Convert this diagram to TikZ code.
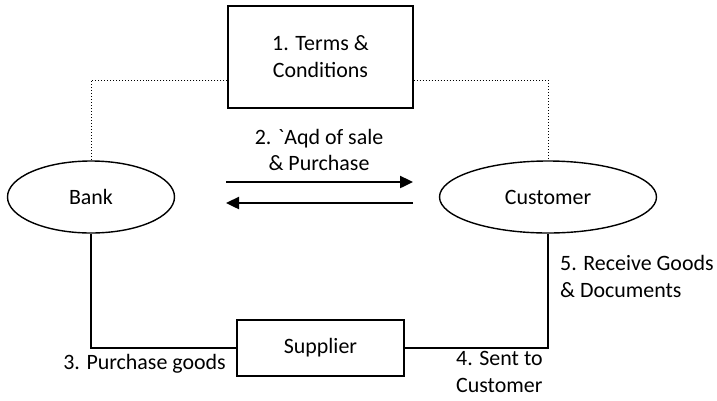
\documentclass[tikz,border=0pt]{standalone}
\usepackage{fontspec}
\setmainfont{Carlito}
\usetikzlibrary{shapes.geometric,arrows.meta}
\begin{document}
\begin{tikzpicture}[x=1bp,y=-1bp,
  every node/.style={font=\fontsize{22}{27}\selectfont, inner sep=0pt},
  party/.style={draw, ellipse, line width=1.4bp, inner sep=0pt},
  panel/.style={draw, line width=1.4bp, align=center},
  link/.style={line width=1.2bp},
  tie/.style={line width=1bp, dotted},
  flow/.style={line width=2.4bp, -{Triangle[length=13bp,width=12bp]}},
  lbl/.style={align=left}]
  \useasboundingbox (0,0) rectangle (717,400);

  % parties
  \node[party, minimum width=167bp, minimum height=72bp] (bank) at (91,197) {Bank};
  \node[party, minimum width=217bp, minimum height=72bp] (cust) at (548,197) {Customer};

  % terms box and supplier box
  \node[panel, minimum width=185bp, minimum height=102bp] (terms) at (320.5,57) {1. Terms \&\\Conditions};
  \node[panel, minimum width=167bp, minimum height=56bp] (supp) at (320.5,348) {Supplier};

  % dotted ties from terms box
  \draw[tie] (terms.west |- 0,80) -| (bank.north);
  \draw[tie] (terms.east |- 0,80) -| (cust.north);

  % contract arrows
  \coordinate (aL) at (226,182);
  \coordinate (aR) at (413,182);
  \coordinate (bL) at (226,203);
  \coordinate (bR) at (413,203);
  \draw[flow] (aL) -- (aR);
  \draw[flow] (bR) -- (bL);
  \node[align=center] (aqd) at (319,150) {2. \textasciigrave Aqd of sale\\\& Purchase};

  % goods flow
  \draw[link] (bank.south) |- (supp.west);
  \draw[link] (supp.east) -| (cust.south);

  % labels
  \node[anchor=east] (l3) at (226,364) {3. Purchase goods};
  \node[lbl, anchor=north west] (l4) at (456,351) {4. Sent to\\Customer};
  \node[lbl, anchor=north west] (l5) at (560,255) {5. Receive Goods\\\& Documents};
\end{tikzpicture}
\end{document}
